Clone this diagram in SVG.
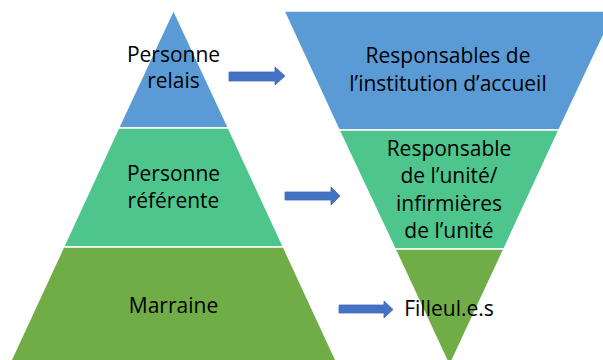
<svg xmlns="http://www.w3.org/2000/svg" width="603" height="360" viewBox="0 0 603 360">
<style>
.blue{fill:#5B9BD5;stroke:#fff;stroke-width:1.5}
.teal{fill:#4EC58D;stroke:#fff;stroke-width:1.5}
.green{fill:#70AD47;stroke:#fff;stroke-width:1.5}
.arrow{fill:#4472C4;stroke:#3F69B5;stroke-width:0.8}
text{font-family:"Open Sans","Liberation Sans",sans-serif;font-size:21px;fill:#000;text-anchor:middle}
</style>
<rect width="603" height="360" fill="#fff"/>
<g id="personne-relais">
<polygon class="blue" points="173.5,10 228.5,128 118.5,128"/>
<text x="173.5" y="62">Personne</text>
<text x="173.5" y="88">relais</text>
</g>
<g id="personne-referente">
<polygon class="teal" points="118.5,128 228.5,128 283.5,247 63.5,247"/>
<text x="173.5" y="181">Personne</text>
<text x="173.5" y="208">référente</text>
</g>
<g id="marraine">
<polygon class="green" points="63.5,247 283.5,247 340,369 7,369"/>
<text x="173.5" y="313">Marraine</text>
</g>
<g id="responsables-institution">
<polygon class="blue" points="284,11 615,11 559,130 339,130"/>
<text x="448" y="63">Responsables de</text>
<text x="448" y="91">l’institution d’accueil</text>
</g>
<g id="responsable-unite">
<polygon class="teal" points="339,130 559,130 504,249 395,249"/>
<text x="449" y="156">Responsable</text>
<text x="449" y="183">de l’unité/</text>
<text x="449" y="211">infirmières</text>
<text x="449" y="238">de l’unité</text>
</g>
<g id="filleules">
<polygon class="green" points="395,249 504,249 449.5,366"/>
<text x="449" y="316">Filleul.e.s</text>
</g>
<g id="connectors">
<polygon class="arrow" points="229,72 275,72 275,67 285,76 275,85 275,81 229,81"/>
<polygon class="arrow" points="285,192 331,192 331,187 340,196 331,205 331,200 285,200"/>
<polygon class="arrow" points="339,305 384,305 384,301 393,309.5 384,318 384,313 339,313"/>
</g>
</svg>
